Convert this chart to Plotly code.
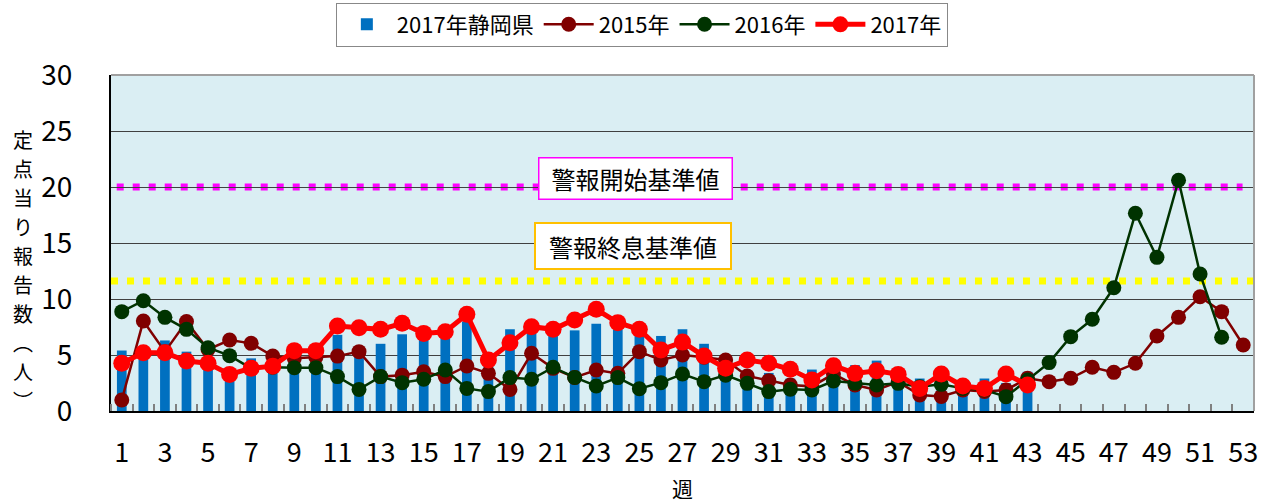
import plotly.graph_objects as go

weeks = list(range(1, 54))
bar_2017_shizuoka = [5.4, 5.0, 6.3, 5.3, 4.6, 3.8, 4.7, 4.2, 4.6, 4.5,
                     6.8, 4.9, 6.0, 6.85, 6.5, 6.7, 8.0, 4.3, 7.3, 7.2,
                     6.9, 7.2, 7.8, 7.3, 6.9, 6.7, 7.3, 6.0, 4.3, 3.6,
                     3.4, 2.9, 3.7, 3.3, 4.1, 4.5, 3.3, 2.9, 2.8, 2.3,
                     2.9, 2.5, 3.5]
y2015 = [0.98, 8.04, 5.3, 7.98, 5.5, 6.34, 6.04, 4.91, 4.7, 4.8,
         4.9, 5.3, 3.07, 3.2, 3.51, 3.07, 4.02, 3.36, 1.93, 5.15,
         3.81, 3.0, 3.66, 3.36, 5.3, 4.55, 5.0, 4.8, 4.55, 3.13,
         2.71, 2.32, 2.2, 3.3, 2.32, 1.88, 2.6, 1.43, 1.29, 1.88,
         1.74, 1.88, 2.92, 2.62, 2.92, 3.9, 3.45, 4.26, 6.7, 8.36,
         10.2, 8.87, 5.89]
y2016 = [8.87, 9.85, 8.36, 7.29, 5.65, 4.94, 3.8, 3.9, 3.87, 3.87,
         3.07, 1.93, 3.07, 2.53, 2.83, 3.66, 2.02, 1.73, 2.98, 2.83,
         3.9, 3.0, 2.23, 2.98, 1.99, 2.53, 3.3, 2.62, 3.2, 2.47,
         1.73, 1.94, 1.88, 2.68, 2.47, 2.32, 2.47, 2.17, 2.38, 2.02,
         1.88, 1.28, 2.77, 4.32, 6.64, 8.19, 11.01, 17.65, 13.72, 20.6,
         12.23, 6.58]
y2017 = [4.26, 5.21, 5.21, 4.46, 4.26, 3.27, 3.81, 4.0, 5.39, 5.39,
         7.59, 7.44, 7.29, 7.83, 6.93, 7.08, 8.63, 4.55, 6.1, 7.53,
         7.29, 8.13, 9.08, 7.89, 7.29, 5.45, 6.15, 4.91, 3.81, 4.55,
         4.26, 3.72, 2.77, 4.05, 3.36, 3.6, 3.27, 2.02, 3.3, 2.23,
         2.02, 3.3, 2.32]
alert_start = 20
alert_end = 11.6
x_tick_vals = list(range(1, 54, 2))
x_tick_labels = [str(w) for w in x_tick_vals]
y_tick_vals = [0, 5, 10, 15, 20, 25, 30]
y_title_chars = ["定", "点", "当", "り", "報", "告", "数", "︵", "人", "︶"]

FONT = "Noto Sans CJK JP"

# plot area in pixels: left 111, right 1254, top 75, bottom 411
PLOT_TOP, PLOT_BOTTOM = 75, 411
def py(pix):
    return (PLOT_BOTTOM - pix) / (PLOT_BOTTOM - PLOT_TOP)

fig = go.Figure()
fig.add_trace(go.Bar(x=weeks[:len(bar_2017_shizuoka)], y=bar_2017_shizuoka,
                     name="2017年静岡県", marker=dict(color="#0070C0", line=dict(width=0)),
                     width=0.45))
fig.add_trace(go.Scatter(x=weeks[:len(y2015)], y=y2015, mode="lines+markers", name="2015年",
                         line=dict(color="#800000", width=2.5),
                         marker=dict(size=15, color="#800000")))
fig.add_trace(go.Scatter(x=weeks[:len(y2016)], y=y2016, mode="lines+markers", name="2016年",
                         line=dict(color="#003300", width=2.5),
                         marker=dict(size=15, color="#003300")))
fig.add_trace(go.Scatter(x=weeks[:len(y2017)], y=y2017, mode="lines+markers", name="2017年",
                         line=dict(color="#FF0000", width=5),
                         marker=dict(size=17, color="#FF0000")))

shapes = [
    dict(type="line", xref="paper", yref="y", x0=0.005, x1=0.99, y0=alert_start, y1=alert_start,
         line=dict(color="#FF00FF", width=7, dash="7px,9px"), layer="between"),
    dict(type="line", xref="paper", yref="y", x0=0.0, x1=1.0, y0=alert_end, y1=alert_end,
         line=dict(color="#FFFF00", width=7, dash="7px,9px"), layer="between"),
    dict(type="line", xref="paper", yref="paper", x0=0, x1=1, y0=1, y1=1,
         line=dict(color="#A0A0A0", width=2)),
    dict(type="line", xref="paper", yref="paper", x0=1, x1=1, y0=0, y1=1,
         line=dict(color="#A0A0A0", width=2)),
]

annotations = [
    dict(text="警報開始基準値", xref="paper", yref="paper", x=0.459, y=py(157),
         showarrow=False, font=dict(family=FONT, size=24, color="black"),
         bgcolor="white", bordercolor="#FF00FF", borderwidth=1.5, borderpad=4,
         width=184, height=32),
    dict(text="警報終息基準値", xref="paper", yref="paper", x=0.457, y=py(246),
         showarrow=False, font=dict(family=FONT, size=24, color="black"),
         bgcolor="white", bordercolor="#FFC000", borderwidth=2, borderpad=5,
         width=184, height=34),
    dict(text="週", xref="paper", yref="paper", x=0.5, y=py(488), yanchor="middle",
         showarrow=False, font=dict(family=FONT, size=21, color="black")),
]
y_title_pix = [139, 168, 197, 226, 255, 284, 313, 342, 371, 400]
for ch, pix in zip(y_title_chars, y_title_pix):
    annotations.append(dict(text=ch, xref="paper", yref="paper", x=-0.0774, y=py(pix),
                            xanchor="center", yanchor="middle", showarrow=False,
                            font=dict(family=FONT, size=20, color="black")))

fig.update_layout(
    width=1271, height=502,
    margin=dict(l=111, r=17, t=75, b=91, autoexpand=False),
    paper_bgcolor="white", plot_bgcolor="#DAEEF3",
    font=dict(family=FONT, color="black"),
    showlegend=True,
    legend=dict(orientation="h", xref="container", yref="container",
                x=0.505, y=0.995, xanchor="center", yanchor="top",
                bordercolor="#888888", borderwidth=1, bgcolor="white",
                font=dict(family=FONT, size=22), itemwidth=50, traceorder="normal"),
    shapes=shapes,
    annotations=annotations,
    xaxis=dict(range=[0.5, 53.5], tickmode="array", tickvals=x_tick_vals, ticktext=x_tick_labels,
               showgrid=False, zeroline=False, showline=True, linecolor="black", linewidth=2,
               ticks="", ticklabelstandoff=17, tickfont=dict(family=FONT, size=27),
               minor=dict(ticks="inside", tick0=0.5, dtick=1, ticklen=7,
                          tickcolor="#808080", tickwidth=1.5, showgrid=False)),
    yaxis=dict(range=[0, 30], tickmode="array", tickvals=y_tick_vals,
               showgrid=True, gridcolor="#404040", gridwidth=1, zeroline=False,
               showline=True, linecolor="black", linewidth=2,
               ticks="", ticklabelstandoff=31, tickfont=dict(family=FONT, size=28)),
)

fig.write_html("out.html", config={"displayModeBar": False},
               post_script="document.body.style.margin='0px';")
